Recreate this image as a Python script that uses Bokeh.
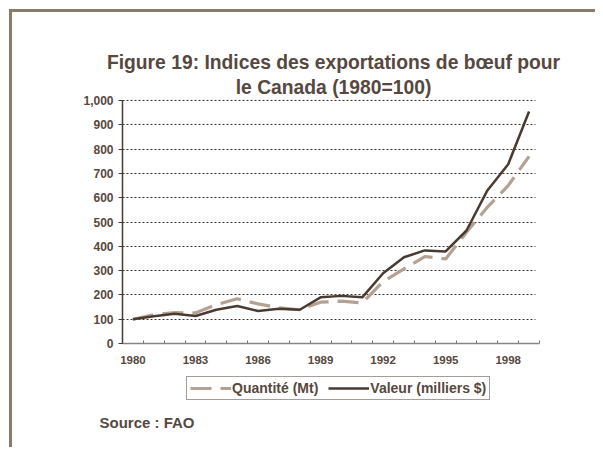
from bokeh.plotting import figure
from bokeh.models import (Range1d, FixedTicker, NumeralTickFormatter, Legend, LegendItem, Label,
                          LinearAxis, Grid)
from bokeh.embed import file_html
from bokeh.resources import INLINE

years = list(range(1980, 2000))
quantite = [100, 118, 127, 126, 160, 184, 163, 147, 139, 170, 174, 167, 255, 307, 358, 348, 458, 561, 650, 770]
valeur = [100, 112, 122, 113, 139, 154, 134, 143, 139, 190, 196, 190, 289, 355, 383, 379, 465, 630, 738, 955]
label_years = [1980, 1983, 1986, 1989, 1992, 1995, 1998]
y_ticks = [0, 100, 200, 300, 400, 500, 600, 700, 800, 900, 1000]

title_lines = ["Figure 19: Indices des exportations de bœuf pour", "le Canada (1980=100)"]
source_text = "Source : FAO"

TXT = "#564840"
DARK = "#4a3b32"
LIGHT = "#b3a293"
BORDER = "#8c7a68"
FONT = "Liberation Sans"

# canvas size and the pixel box in which the data area sits
W, H = 595, 447
px_l, px_r, px_t, px_b = 122, 539, 100, 343

x0, x1 = years[0] - 0.5, years[-1] + 0.5
y0, y1 = y_ticks[0], y_ticks[-1]
sx = (px_r - px_l) / (x1 - x0)
sy = (px_b - px_t) / (y1 - y0)
xr = Range1d(x0 - px_l / sx, x1 + (W - px_r) / sx)
yr = Range1d(y0 - (H - px_b) / sy, y1 + px_t / sy)

p = figure(width=W, height=H, output_backend="svg", toolbar_location=None,
           x_range=xr, y_range=yr, x_axis_type=None, y_axis_type=None,
           min_border=0, min_border_left=0, min_border_right=0, min_border_top=0, min_border_bottom=0)
p.styles = {"box-shadow": f"inset 9px 9px 0 0 white, inset 12px 12px 0 0 {BORDER}"}
p.outline_line_color = None
p.background_fill_color = None
p.border_fill_color = None

xaxis = LinearAxis(fixed_location=y0, bounds=(x0, x1),
                   ticker=FixedTicker(ticks=label_years, minor_ticks=[y - 0.5 for y in years] + [x1]))
xaxis.major_tick_line_color = None
xaxis.major_tick_in = 0
xaxis.major_tick_out = 0
xaxis.minor_tick_line_color = "#7f7168"
xaxis.minor_tick_in = 3
xaxis.minor_tick_out = 0
xaxis.axis_line_color = "#8f847c"
xaxis.axis_line_width = 1.5
xaxis.major_label_text_font = FONT
xaxis.major_label_text_font_style = "bold"
xaxis.major_label_text_font_size = "11.5px"
xaxis.major_label_text_color = TXT
xaxis.major_label_standoff = 12
p.add_layout(xaxis, "below")

yaxis = LinearAxis(fixed_location=x0, bounds=(y0, y1), ticker=FixedTicker(ticks=y_ticks),
                   formatter=NumeralTickFormatter(format="0,0"))
yaxis.axis_line_color = DARK
yaxis.axis_line_width = 1.5
yaxis.major_tick_line_color = DARK
yaxis.major_tick_in = 0
yaxis.major_tick_out = 4
yaxis.minor_tick_line_color = None
yaxis.major_label_text_font = FONT
yaxis.major_label_text_font_style = "bold"
yaxis.major_label_text_font_size = "12px"
yaxis.major_label_text_color = TXT
yaxis.major_label_standoff = 5
p.add_layout(yaxis, "left")

if "cross_bounds" in Grid.properties():
    grid = Grid(dimension=1, ticker=FixedTicker(ticks=y_ticks[1:]), cross_bounds=(x0, x1 - 0.2),
                grid_line_color="#3d3028", grid_line_dash="2 2", grid_line_width=1)
    p.add_layout(grid)
else:
    p.segment(x0=[x0] * (len(y_ticks) - 1), x1=[x1 - 0.2] * (len(y_ticks) - 1), y0=y_ticks[1:], y1=y_ticks[1:],
              line_color="#3d3028", line_dash="2 2", line_width=1)

rq = p.line(years, quantite, line_color=LIGHT, line_width=3.2, line_dash="21 9")
rv = p.line(years, valeur, line_color=DARK, line_width=2.5)

legend = Legend(items=[LegendItem(label="Quantité (Mt)", renderers=[rq]),
                       LegendItem(label="Valeur (milliers $)", renderers=[rv])],
                orientation="horizontal", location=(186, H - 400),
                label_text_font=FONT, label_text_font_style="bold", label_text_font_size="14px",
                label_text_color=TXT, border_line_color=DARK, border_line_width=1,
                glyph_width=41, glyph_height=14, label_height=14, label_width=20,
                padding=3, spacing=10, label_standoff=1, margin=0, background_fill_alpha=1)
p.add_layout(legend, "center")

title_baselines = [62, 87]
for t, b in zip(title_lines, title_baselines):
    p.add_layout(Label(x=333, y=H - b, x_units="screen", y_units="screen", text=t,
                       text_align="center", text_baseline="alphabetic", text_font=FONT,
                       text_font_style="bold", text_font_size="19.3px", text_color=TXT))

p.add_layout(Label(x=99, y=H - 422, x_units="screen", y_units="screen", text=source_text,
                   text_align="left", text_baseline="alphabetic", text_font=FONT,
                   text_font_style="bold", text_font_size="15px", text_color=TXT))

open("out.html", "w").write(file_html(p, INLINE))
